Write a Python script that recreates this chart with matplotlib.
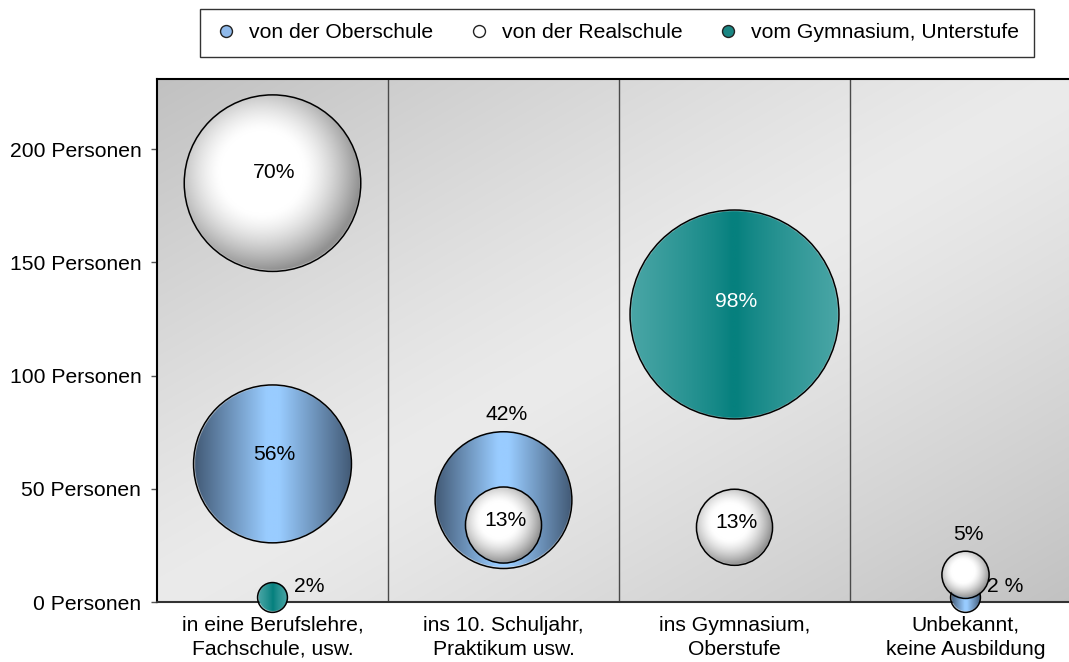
import matplotlib
matplotlib.use("Agg")
import matplotlib.pyplot as plt
import numpy as np
from matplotlib.patches import Ellipse
from matplotlib.lines import Line2D

plt.rcParams['font.family'] = ['Liberation Sans', 'DejaVu Sans']
plt.rcParams['font.size'] = 15.2

# data
categories = ["in eine Berufslehre,\nFachschule, usw.",
              "ins 10. Schuljahr,\nPraktikum usw.",
              "ins Gymnasium,\nOberstufe",
              "Unbekannt,\nkeine Ausbildung"]
series_names = ["von der Oberschule", "von der Realschule", "vom Gymnasium, Unterstufe"]

ober_persons = [61, 45, None, 2]
ober_pct = [56, 42, None, 2]
ober_labels = ["56%", "42%", None, "2 %"]

real_persons = [185, 34, 33, 12]
real_pct = [70, 13, 13, 5]
real_labels = ["70%", "13%", "13%", "5%"]

gym_persons = [2, None, 127, None]
gym_pct = [2, None, 98, None]
gym_labels = ["2%", None, "98%", None]

y_ticks = [0, 50, 100, 150, 200]

# label placement per series (layout only)
ober_lpos = ["center", "above", None, "right"]
real_lpos = ["center", "center", "center", "above"]
gym_lpos = ["right", None, "center", None]

W, H = 1069, 662
fig = plt.figure(figsize=(W / 100, H / 100), dpi=100)
ax = fig.add_axes([157 / W, 1 - 602 / H, (1081 - 157) / W, (602 - 79) / H])
ax.set_xlim(0, 4)
ax.set_ylim(0, 231)

# background gradient (dark top-left / bottom-right, light diagonal band)
n = 300
u, v = np.meshgrid(np.linspace(0, 1, n), np.linspace(0, 1, n))
s = (u + (1 - v)) / 2
g = 235 - 42 * np.abs(2 * s - 1) ** 1.2
bg = np.dstack([g, g, g]) / 255.0
ax.imshow(bg, extent=(0, 4, 0, 231), origin='lower', aspect='auto',
          zorder=0, interpolation='bilinear')

for xb in [1, 2, 3]:
    ax.axvline(xb, color='#4a4a4a', lw=1.0, zorder=1)

K = 10.55  # px radius per sqrt(percent)


def grad_blue(xx, yy):
    t = np.clip(np.abs(xx), 0, 1)
    f = np.clip((t - 0.08) / 0.92, 0, 1)
    light = np.array([153, 204, 255])
    dark = np.array([66, 90, 118])
    return light[None, None, :] + (dark - light)[None, None, :] * f[..., None]


def grad_teal(xx, yy):
    t = np.clip(np.abs(xx), 0, 1)
    f = np.clip((t - 0.03) / 0.97, 0, 1) ** 0.8
    c0 = np.array([6, 128, 126])
    c1 = np.array([74, 166, 166])
    return c0[None, None, :] + (c1 - c0)[None, None, :] * f[..., None]


def grad_white(xx, yy):
    d = np.hypot(xx + 0.12, yy - 0.12) / 1.12
    f = np.clip((d - 0.42) / 0.58, 0, 1) ** 1.4
    g = 255 - 110 * f
    return np.dstack([g, g, g])


def draw_bubble(x, y, pct, gradfun, z):
    cx, cy = ax.transData.transform((x, y))
    r = K * np.sqrt(pct)
    inv = ax.transData.inverted()
    x0, y0 = inv.transform((cx - r, cy - r))
    x1, y1 = inv.transform((cx + r, cy + r))
    m = 256
    xx, yy = np.meshgrid(np.linspace(-1, 1, m), np.linspace(-1, 1, m))
    rr = np.hypot(xx, yy)
    rgb = gradfun(xx, yy) / 255.0
    alpha = np.clip((1.0 - rr) * r, 0, 1)
    img = np.dstack([rgb, alpha])
    ax.imshow(img, extent=(x0, x1, y0, y1), origin='lower', aspect='auto',
              zorder=z, clip_on=False, interpolation='bilinear')
    ax.add_patch(Ellipse((x, y), x1 - x0, y1 - y0, fill=False, ec='black',
                         lw=1.1, zorder=z + 0.1, clip_on=False))
    return r


series = [
    (ober_persons, ober_pct, ober_labels, ober_lpos, grad_blue, 3, 'black'),
    (real_persons, real_pct, real_labels, real_lpos, grad_white, 4, 'black'),
    (gym_persons, gym_pct, gym_labels, gym_lpos, grad_teal, 5, 'white'),
]

pt = 0.72  # points per pixel at 100 dpi
for persons, pct, labels, lpos, gf, z, tcol in series:
    for i, (p, q, lab, lp) in enumerate(zip(persons, pct, labels, lpos)):
        if p is None:
            continue
        x = i + 0.5
        r = draw_bubble(x, p, q, gf, z)
        if lp == "center":
            ax.annotate(lab, (x, p), xytext=(2 * pt, 0.12 * r * pt), textcoords='offset points',
                        ha='center', va='center', color=tcol, zorder=10)
        elif lp == "above":
            ax.annotate(lab, (x, p), xytext=(3 * pt, (r + 17) * pt), textcoords='offset points',
                        ha='center', va='center', color='black', zorder=10)
        elif lp == "right":
            ax.annotate(lab, (x, p), xytext=((r + 7) * pt, 11 * pt), textcoords='offset points',
                        ha='left', va='center', color='black', zorder=10,
                        annotation_clip=False)

# axes styling
ax.spines['right'].set_visible(False)
ax.spines['top'].set_color('black')
ax.spines['top'].set_linewidth(1.5)
ax.spines['left'].set_color('black')
ax.spines['left'].set_linewidth(1.5)
ax.spines['bottom'].set_color('#333333')
ax.spines['bottom'].set_linewidth(1.5)
for sp in ax.spines.values():
    sp.set_zorder(2.5)

ax.set_yticks(y_ticks)
ax.set_yticklabels([f"{t} Personen" for t in y_ticks])
ax.tick_params(axis='y', length=4.3, width=1, color='#555555', pad=7)
ax.set_xticks([i + 0.5 for i in range(len(categories))])
ax.set_xticklabels(categories, linespacing=1.32)
ax.tick_params(axis='x', length=0, pad=10)

handles = [
    Line2D([], [], ls='none', marker='o', markersize=8.6, markerfacecolor='#8fb9ea',
           markeredgecolor='#222222', mew=1),
    Line2D([], [], ls='none', marker='o', markersize=8.6, markerfacecolor='white',
           markeredgecolor='#222222', mew=1),
    Line2D([], [], ls='none', marker='o', markersize=8.6, markerfacecolor='#1a8683',
           markeredgecolor='#222222', mew=1),
]
leg = fig.legend(handles, series_names, loc='upper center', ncol=3,
                 bbox_to_anchor=(617 / W, 1 - 9 / H), borderaxespad=0,
                 frameon=True, fancybox=False, edgecolor='black',
                 handlelength=1.1, handletextpad=0.55, columnspacing=1.6,
                 borderpad=0.68)
leg.get_frame().set_linewidth(1.0)

fig.savefig("out.png", dpi=100)
